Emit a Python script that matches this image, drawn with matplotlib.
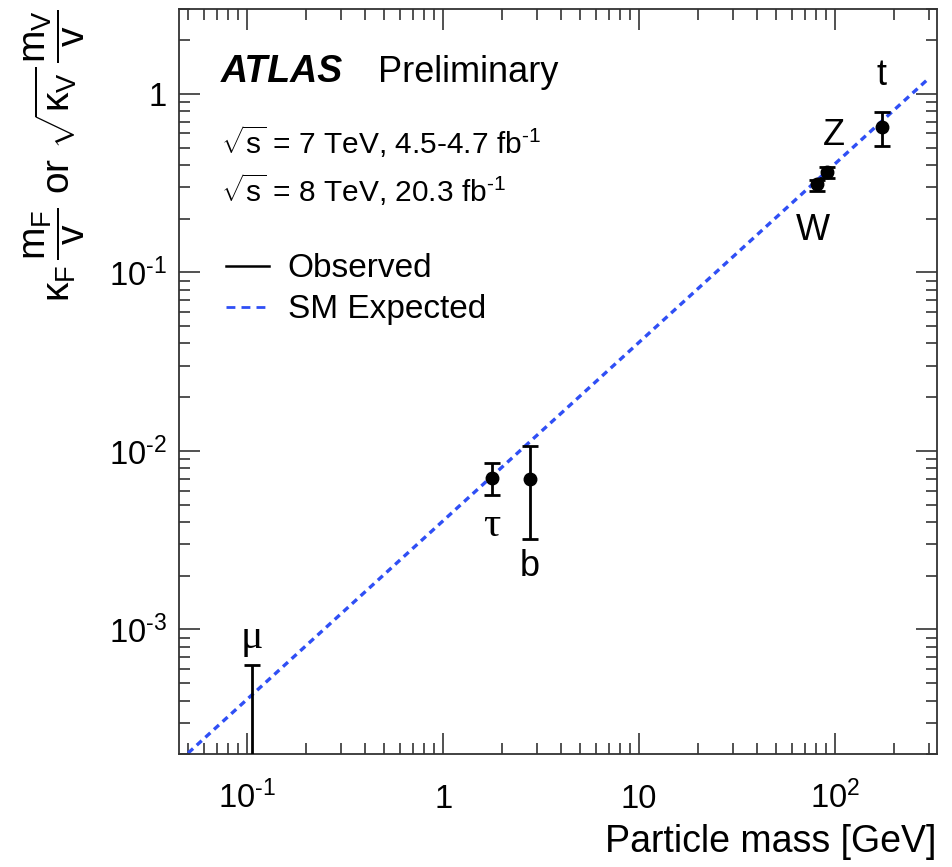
import matplotlib
matplotlib.use("Agg")
import matplotlib.pyplot as plt
from matplotlib.lines import Line2D
from matplotlib.ticker import FixedLocator, FixedFormatter, LogLocator, NullFormatter
import numpy as np

plt.rcParams['font.family'] = ['Liberation Sans', 'DejaVu Sans']
plt.rcParams['mathtext.fontset'] = 'custom'
plt.rcParams['mathtext.rm'] = 'Liberation Sans'
plt.rcParams['mathtext.it'] = 'Liberation Sans'
plt.rcParams['mathtext.bf'] = 'Liberation Sans:bold'
plt.rcParams['mathtext.sf'] = 'Liberation Sans'

# ---- data ----
particles = ['τ', 'b', 'W', 'Z', 't']
masses = [1.777, 2.76, 80.4, 91.19, 172.5]
observed = [7.1e-3, 7.0e-3, 0.312, 0.363, 0.65]
err_up = [1.5e-3, 3.6e-3, 0.018, 0.027, 0.14]
err_dn = [1.4e-3, 3.8e-3, 0.025, 0.023, 0.14]

mu_mass = 0.1057
mu_upper = 6.3e-4

vev = 246.0
sm_x = [0.05, 300.0]

x_ticks = [0.1, 1, 10, 100]
x_ticklabels = [r'$10^{\text{-1}}$', '1', '10', r'$10^{2}$']
y_ticks = [1e-3, 1e-2, 1e-1, 1]
y_ticklabels = [r'$10^{\text{-3}}$', r'$10^{\text{-2}}$', r'$10^{\text{-1}}$', '1']

# ---- figure ----
fig = plt.figure(figsize=(9.53, 8.67), dpi=100)
ax = fig.add_axes([0.188, 0.130, 0.795, 0.860])
ax.set_xscale('log')
ax.set_yscale('log')
ax.set_xlim(0.045, 330)
ax.set_ylim(2e-4, 3)

blue = '#2f4ff5'
sm_y = [m / vev for m in sm_x]
ax.plot(sm_x, sm_y, color=blue, lw=2.4, ls=(0, (2.0, 1.5)), zorder=2)

ax.errorbar(masses, observed, yerr=[err_dn, err_up], fmt='o', color='black',
            ms=9, lw=2.0, capsize=6, capthick=2.0, zorder=3)
ax.errorbar([mu_mass], [mu_upper], yerr=[[mu_upper - 1e-6], [0]], fmt='none',
            ecolor='black', lw=2.0, capsize=6, capthick=2.0, zorder=3)

# particle labels
fs_lab = 26
serif = ['Liberation Serif', 'DejaVu Serif']
lab_pos = {
    'τ': (masses[0], observed[0] * 0.54),
    'b': (masses[1], observed[1] * 0.32),
    'W': (masses[2] * 0.96, observed[2] * 0.55),
    'Z': (masses[3] * 1.08, observed[3] * 1.6),
    't': (masses[4], observed[4] * 1.95),
}
for p in particles:
    x, y = lab_pos[p]
    if p == 'τ':
        ax.text(x, y, p, fontsize=31, ha='center', va='center', family=serif)
    else:
        ax.text(x, y, p, fontsize=fs_lab, ha='center', va='center')
ax.text(mu_mass, mu_upper * 1.42, 'μ', fontsize=30, ha='center', va='center',
        family=serif)

# ticks
ax.xaxis.set_major_locator(FixedLocator(x_ticks))
ax.xaxis.set_major_formatter(FixedFormatter(x_ticklabels))
ax.xaxis.set_minor_locator(LogLocator(base=10, subs=np.arange(2, 10)))
ax.xaxis.set_minor_formatter(NullFormatter())
ax.yaxis.set_major_locator(FixedLocator(y_ticks))
ax.yaxis.set_major_formatter(FixedFormatter(y_ticklabels))
ax.yaxis.set_minor_locator(LogLocator(base=10, subs=np.arange(2, 10)))
ax.yaxis.set_minor_formatter(NullFormatter())
ax.tick_params(which='both', direction='in', top=True, right=True, width=1.2,
               colors='#333333', labelcolor='black')
ax.tick_params(which='major', length=15, labelsize=23.5)
ax.tick_params(which='minor', length=8)
ax.tick_params(axis='x', which='major', pad=39)
ax.tick_params(axis='y', which='major', pad=9)
for lbl in ax.get_xticklabels():
    lbl.set_va('baseline')
for s in ax.spines.values():
    s.set_linewidth(1.3)
    s.set_color('#333333')

ax.set_xlabel('Particle mass [GeV]', fontsize=27, loc='right', labelpad=6)
ax.set_ylabel(r'$\kappa_{\rm F}\,\dfrac{m_{\rm F}}{v}$ or $\sqrt{\kappa_{\rm V}}\,\dfrac{m_{\rm V}}{v}$',
              fontsize=28, loc='top')
ax.yaxis.set_label_coords(-0.121, 1.0)

# annotations
ax.text(0.055, 0.915, 'ATLAS', transform=ax.transAxes, fontsize=27,
        fontweight='bold', fontstyle='italic', va='center')
ax.text(0.263, 0.915, 'Preliminary', transform=ax.transAxes, fontsize=26, va='center')
ax.text(0.055, 0.822, r'$\sqrt{\rm s}$ = 7 TeV, 4.5-4.7 fb$^{\text{-1}}$', transform=ax.transAxes,
        fontsize=21.5, va='center')
ax.text(0.055, 0.758, r'$\sqrt{\rm s}$ = 8 TeV, 20.3 fb$^{\text{-1}}$', transform=ax.transAxes,
        fontsize=21.5, va='center')

handles = [Line2D([], [], color='black', lw=1.8),
           Line2D([], [], color=blue, lw=2.0, ls=(0, (3.2, 2.2)))]
ax.legend(handles, ['Observed', 'SM Expected'], loc='upper left',
          bbox_to_anchor=(0.062, 0.672), frameon=False, fontsize=24,
          handlelength=1.3, handletextpad=0.55, labelspacing=0.3,
          borderaxespad=0, borderpad=0)

fig.savefig('out.png', dpi=100)
